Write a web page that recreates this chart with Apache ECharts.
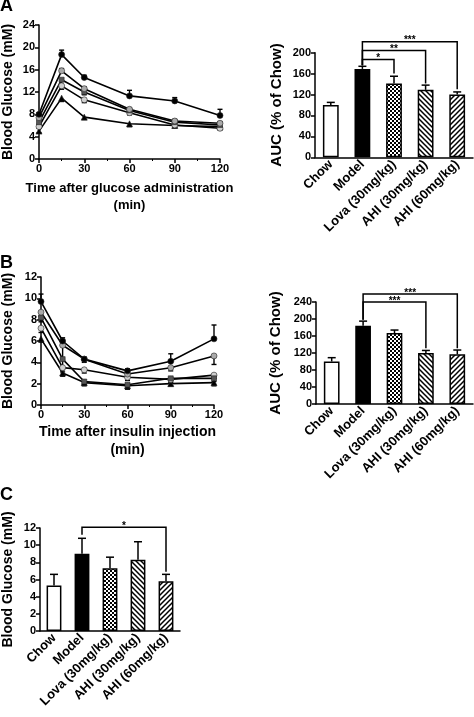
<!DOCTYPE html>
<html><head><meta charset="utf-8">
<script src="https://cdn.jsdelivr.net/npm/echarts@6/dist/echarts.min.js"></script>
<style>html,body{margin:0;padding:0;background:#fff}#c{width:474px;height:717px}</style>
</head><body><div id="c"></div>
<script>
// ---------- data ----------
const groups = ['Chow', 'Model', 'Lova (30mg/kg)', 'AHI (30mg/kg)', 'AHI (60mg/kg)'];
const timePoints = [0, 15, 30, 60, 90, 120];

// Panel A: OGTT
const ogttChow = [5.0, 10.9, 7.5, 6.3, 6.0, 5.8];
const ogttChowErr = [-0.3, -0.6, -0.4, -0.5, -0.4, -0.4];
const ogttModel = [8.0, 18.7, 14.6, 11.3, 10.4, 7.8];
const ogttModelErr = [0.3, 0.8, 0.4, 1.0, 0.6, 1.1];
const ogttLova = [7.4, 15.8, 12.6, 8.9, 6.8, 6.4];
const ogttLovaErr = [0.3, 0.4, 0.3, 0.3, 0.3, 0.3];
const ogttAhi30 = [6.6, 14.2, 12.0, 8.7, 6.6, 6.1];
const ogttAhi30Err = [-0.4, -0.9, -0.5, -0.4, -0.4, -0.4];
const ogttAhi60 = [5.8, 13.1, 10.6, 8.3, 6.1, 5.5];
const ogttAhi60Err = [-0.3, -0.6, -0.5, -0.4, -0.4, -0.3];
const aucOgtt = [100, 169, 141, 129, 120];
const aucOgttErr = [5, 5, 14, 9, 5];
const ogttBrackets = [[1, 2, 187, 160, '*'], [1, 3, 204, 141, '**'], [1, 4, 221, 130, '***']];
const ogttBracketModelTop = 176;

// Panel B: ITT
const ittChow = [6.2, 3.0, 2.1, 1.8, 2.0, 2.1];
const ittChowErr = [-0.3, -0.3, -0.3, -0.3, -0.2, -0.3];
const ittModel = [9.7, 6.0, 4.3, 3.2, 4.1, 6.2];
const ittModelErr = [0.7, 0.3, 0.2, 0.2, 0.7, 1.3];
const ittLova = [8.7, 5.6, 4.3, 2.9, 3.5, 4.6];
const ittLovaErr = [-0.4, -1.3, -0.3, -0.3, -0.3, -0.8];
const ittAhi30 = [8.2, 4.3, 2.2, 1.9, 2.5, 2.5];
const ittAhi30Err = [-0.4, -1.0, -0.3, -0.4, -0.3, -0.3];
const ittAhi60 = [7.2, 3.5, 3.3, 2.6, 2.4, 2.8];
const ittAhi60Err = [-0.4, -0.4, -0.3, -0.3, -0.3, -0.3];
const aucItt = [100, 184, 167, 120, 117];
const aucIttErr = [9, 11, 7, 6, 10];
const ittBrackets = [[1, 3, 240, 131, '***'], [1, 4, 259, 131, '***']];
const ittBracketModelTop = 198;

// Panel C: fasting blood glucose
const fbg = [5.3, 9.0, 7.3, 8.3, 5.8];
const fbgErr = [1.3, 1.8, 1.3, 2.1, 0.8];
const fbgBrackets = [[1, 4, 12.1, 6.9, '*']];
const fbgBracketModelTop = 11.2;

// ---------- styles ----------
const FONT = '"Liberation Sans", Arial, sans-serif';
function makeCanvas(s, draw) {
  const c = document.createElement('canvas'); c.width = s; c.height = s;
  const g = c.getContext('2d'); g.fillStyle = '#fff'; g.fillRect(0, 0, s, s); draw(g, s); return c;
}
const checker = makeCanvas(4, (g) => { g.fillStyle = '#000'; g.fillRect(0, 0, 2, 2); g.fillRect(2, 2, 2, 2); });
const backStripe = makeCanvas(5, (g, s) => {
  g.strokeStyle = '#000'; g.lineWidth = 1.5; g.beginPath();
  g.moveTo(-1, -1); g.lineTo(s + 1, s + 1);
  g.moveTo(-1, s - 1); g.lineTo(1, s + 1);
  g.moveTo(s - 1, -1); g.lineTo(s + 1, 1); g.stroke();
});
const fwdStripe = makeCanvas(5, (g, s) => {
  g.strokeStyle = '#000'; g.lineWidth = 1.5; g.beginPath();
  g.moveTo(-1, s + 1); g.lineTo(s + 1, -1);
  g.moveTo(-1, 1); g.lineTo(1, -1);
  g.moveTo(s - 1, s + 1); g.lineTo(s + 1, s - 1); g.stroke();
});
const fills = ['#fff', '#000', { image: checker, repeat: 'repeat' }, { image: backStripe, repeat: 'repeat' }, { image: fwdStripe, repeat: 'repeat' }];

const lineStyles = [
  { name: 'Chow', symbol: 'triangle', fill: '#000' },
  { name: 'Model', symbol: 'circle', fill: '#000' },
  { name: 'Lova (30mg/kg)', symbol: 'circle', fill: '#aaa' },
  { name: 'AHI (30mg/kg)', symbol: 'rect', fill: '#555' },
  { name: 'AHI (60mg/kg)', symbol: 'circle', fill: '#d0d0d0' }
];

const axLine = { lineStyle: { color: '#000', width: 1.5 } };
const axTick = { length: 4, lineStyle: { color: '#000', width: 1.5 } };
const axLabel = { color: '#000', fontFamily: FONT, fontWeight: 'bold', fontSize: 11, margin: 4 };
const nameStyle = (sz) => ({ color: '#000', fontFamily: FONT, fontWeight: 'bold', fontSize: sz });

function valueX(grid, name, gap, lh, sz) {
  return { type: 'value', gridIndex: grid, min: 0, max: 120, interval: 30,
    axisLine: axLine, axisTick: axTick, axisLabel: axLabel, splitLine: { show: false },
    minorTick: { show: true, splitNumber: 2, length: 2, lineStyle: { color: '#000', width: 1 } },
    name: name, nameLocation: 'middle', nameGap: gap,
    nameTextStyle: Object.assign(nameStyle(sz), { lineHeight: lh }) };
}
function catX(grid) {
  return { type: 'category', gridIndex: grid, data: groups, axisLine: axLine, axisTick: { show: false },
    axisLabel: Object.assign({}, axLabel, { rotate: 45, interval: 0, fontSize: 13, margin: 5 }) };
}
function valueY(grid, max, interval, name, gap, sz) {
  return { type: 'value', gridIndex: grid, min: 0, max: max, interval: interval,
    axisLine: { show: true, lineStyle: { color: '#000', width: 1.5 } }, axisTick: Object.assign({ show: true }, axTick),
    axisLabel: axLabel, splitLine: { show: false },
    name: name, nameLocation: 'middle', nameGap: gap, nameTextStyle: nameStyle(sz) };
}

function lineSeries(idx, st, values) {
  return { type: 'line', name: st.name, xAxisIndex: idx, yAxisIndex: idx,
    data: timePoints.map((t, i) => [t, values[i]]), symbol: st.symbol, symbolSize: st.symbol === 'rect' ? 5 : 6,
    lineStyle: { color: '#000', width: 1.6 }, itemStyle: { color: st.fill, borderColor: '#222', borderWidth: 0.6 },
    z: 4, silent: true };
}
function lineErr(idx, values, errs) {
  return { type: 'custom', xAxisIndex: idx, yAxisIndex: idx, z: 3, silent: true,
    data: timePoints.map((t, i) => [t, values[i], errs[i]]),
    renderItem: (p, api) => {
      const x = api.value(0), v = api.value(1), e = api.value(2);
      const a = api.coord([x, v]), b = api.coord([x, v + e]); const w = 5;
      return { type: 'group', children: [
        { type: 'line', shape: { x1: a[0], y1: a[1], x2: b[0], y2: b[1] }, style: { stroke: '#000', lineWidth: 1.4 } },
        { type: 'line', shape: { x1: b[0] - w / 2, y1: b[1], x2: b[0] + w / 2, y2: b[1] }, style: { stroke: '#000', lineWidth: 1.4 } }
      ] };
    } };
}
function barSeries(idx, values, bw) {
  return { type: 'bar', xAxisIndex: idx, yAxisIndex: idx, barWidth: bw, silent: true,
    data: values.map((v, i) => ({ value: v, itemStyle: { color: fills[i] } })),
    itemStyle: { borderColor: '#000', borderWidth: 1.5 }, z: 2 };
}
function barErr(idx, values, errs) {
  return { type: 'custom', xAxisIndex: idx, yAxisIndex: idx, z: 3, silent: true,
    data: values.map((v, i) => [i, v, errs[i]]),
    renderItem: (p, api) => {
      const x = api.value(0), v = api.value(1), e = api.value(2);
      const a = api.coord([x, v]), b = api.coord([x, v + e]); const w = 8;
      return { type: 'group', children: [
        { type: 'line', shape: { x1: a[0], y1: a[1], x2: b[0], y2: b[1] }, style: { stroke: '#000', lineWidth: 1.5 } },
        { type: 'line', shape: { x1: b[0] - w / 2, y1: b[1], x2: b[0] + w / 2, y2: b[1] }, style: { stroke: '#000', lineWidth: 1.5 } }
      ] };
    } };
}
function brackets(idx, list, modelTop) {
  return { type: 'custom', xAxisIndex: idx, yAxisIndex: idx, clip: false, z: 5, silent: true,
    data: list.map(b => [b[0], b[2]]),
    renderItem: (p, api) => {
      const b = list[p.dataIndex];
      const p1 = api.coord([b[0], b[2]]), p2 = api.coord([b[1], b[2]]);
      const m = api.coord([b[0], modelTop]), d = api.coord([b[1], b[3]]);
      return { type: 'group', children: [
        { type: 'polyline', shape: { points: [[m[0], m[1]], [p1[0], p1[1]], [p2[0], p2[1]], [d[0], d[1]]] },
          style: { stroke: '#000', fill: null, lineWidth: 1.5 } },
        { type: 'text', x: (p1[0] + p2[0]) / 2, y: p1[1] - 1,
          style: { text: b[4], font: 'bold 10px ' + FONT, fill: '#000', align: 'center', verticalAlign: 'middle' } }
      ] };
    } };
}

const ogttVals = [ogttChow, ogttModel, ogttLova, ogttAhi30, ogttAhi60];
const ogttErrs = [ogttChowErr, ogttModelErr, ogttLovaErr, ogttAhi30Err, ogttAhi60Err];
const ittVals = [ittChow, ittModel, ittLova, ittAhi30, ittAhi60];
const ittErrs = [ittChowErr, ittModelErr, ittLovaErr, ittAhi30Err, ittAhi60Err];

const series = [];
[0, 4, 3, 2, 1].forEach(k => { series.push(lineErr(0, ogttVals[k], ogttErrs[k])); series.push(lineSeries(0, lineStyles[k], ogttVals[k])); });
[0, 4, 3, 2, 1].forEach(k => { series.push(lineErr(2, ittVals[k], ittErrs[k])); series.push(lineSeries(2, lineStyles[k], ittVals[k])); });
series.push(barSeries(1, aucOgtt, '50%'), barErr(1, aucOgtt, aucOgttErr), brackets(1, ogttBrackets, ogttBracketModelTop));
series.push(barSeries(3, aucItt, '50%'), barErr(3, aucItt, aucIttErr), brackets(3, ittBrackets, ittBracketModelTop));
series.push(barSeries(4, fbg, '53%'), barErr(4, fbg, fbgErr), brackets(4, fbgBrackets, fbgBracketModelTop));

const letter = (t, x, y) => ({ type: 'text', left: x, top: y, style: { text: t, font: 'bold 18px ' + FONT, fill: '#000' } });

const option = {
  animation: false,
  backgroundColor: '#fff',
  grid: [
    { left: 39, top: 25, width: 181, height: 134 },
    { left: 315, top: 52.7, width: 158, height: 104.6 },
    { left: 40, top: 277, width: 174, height: 128 },
    { left: 316, top: 302, width: 157, height: 102 },
    { left: 39, top: 528, width: 141, height: 103 }
  ],
  xAxis: [
    valueX(0, 'Time after glucose administration\n(min)', 21, 17, 13),
    catX(1),
    valueX(2, 'Time after insulin injection\n(min)', 18, 18, 14),
    catX(3),
    catX(4)
  ],
  yAxis: [
    valueY(0, 24, 4, 'Blood Glucose (mM)', 24, 14),
    valueY(1, 200, 40, 'AUC (% of Chow)', 31, 15),
    valueY(2, 12, 2, 'Blood Glucose (mM)', 26, 14),
    valueY(3, 240, 40, 'AUC (% of Chow)', 33, 15),
    valueY(4, 12, 2, 'Blood Glucose (mM)', 25, 14)
  ],
  graphic: [letter('A', 0, -3), letter('B', 0, 254), letter('C', 0, 486)],
  series: series
};
const chart = echarts.init(document.getElementById('c'), null, { renderer: 'canvas' });
chart.setOption(option);
</script></body></html>
